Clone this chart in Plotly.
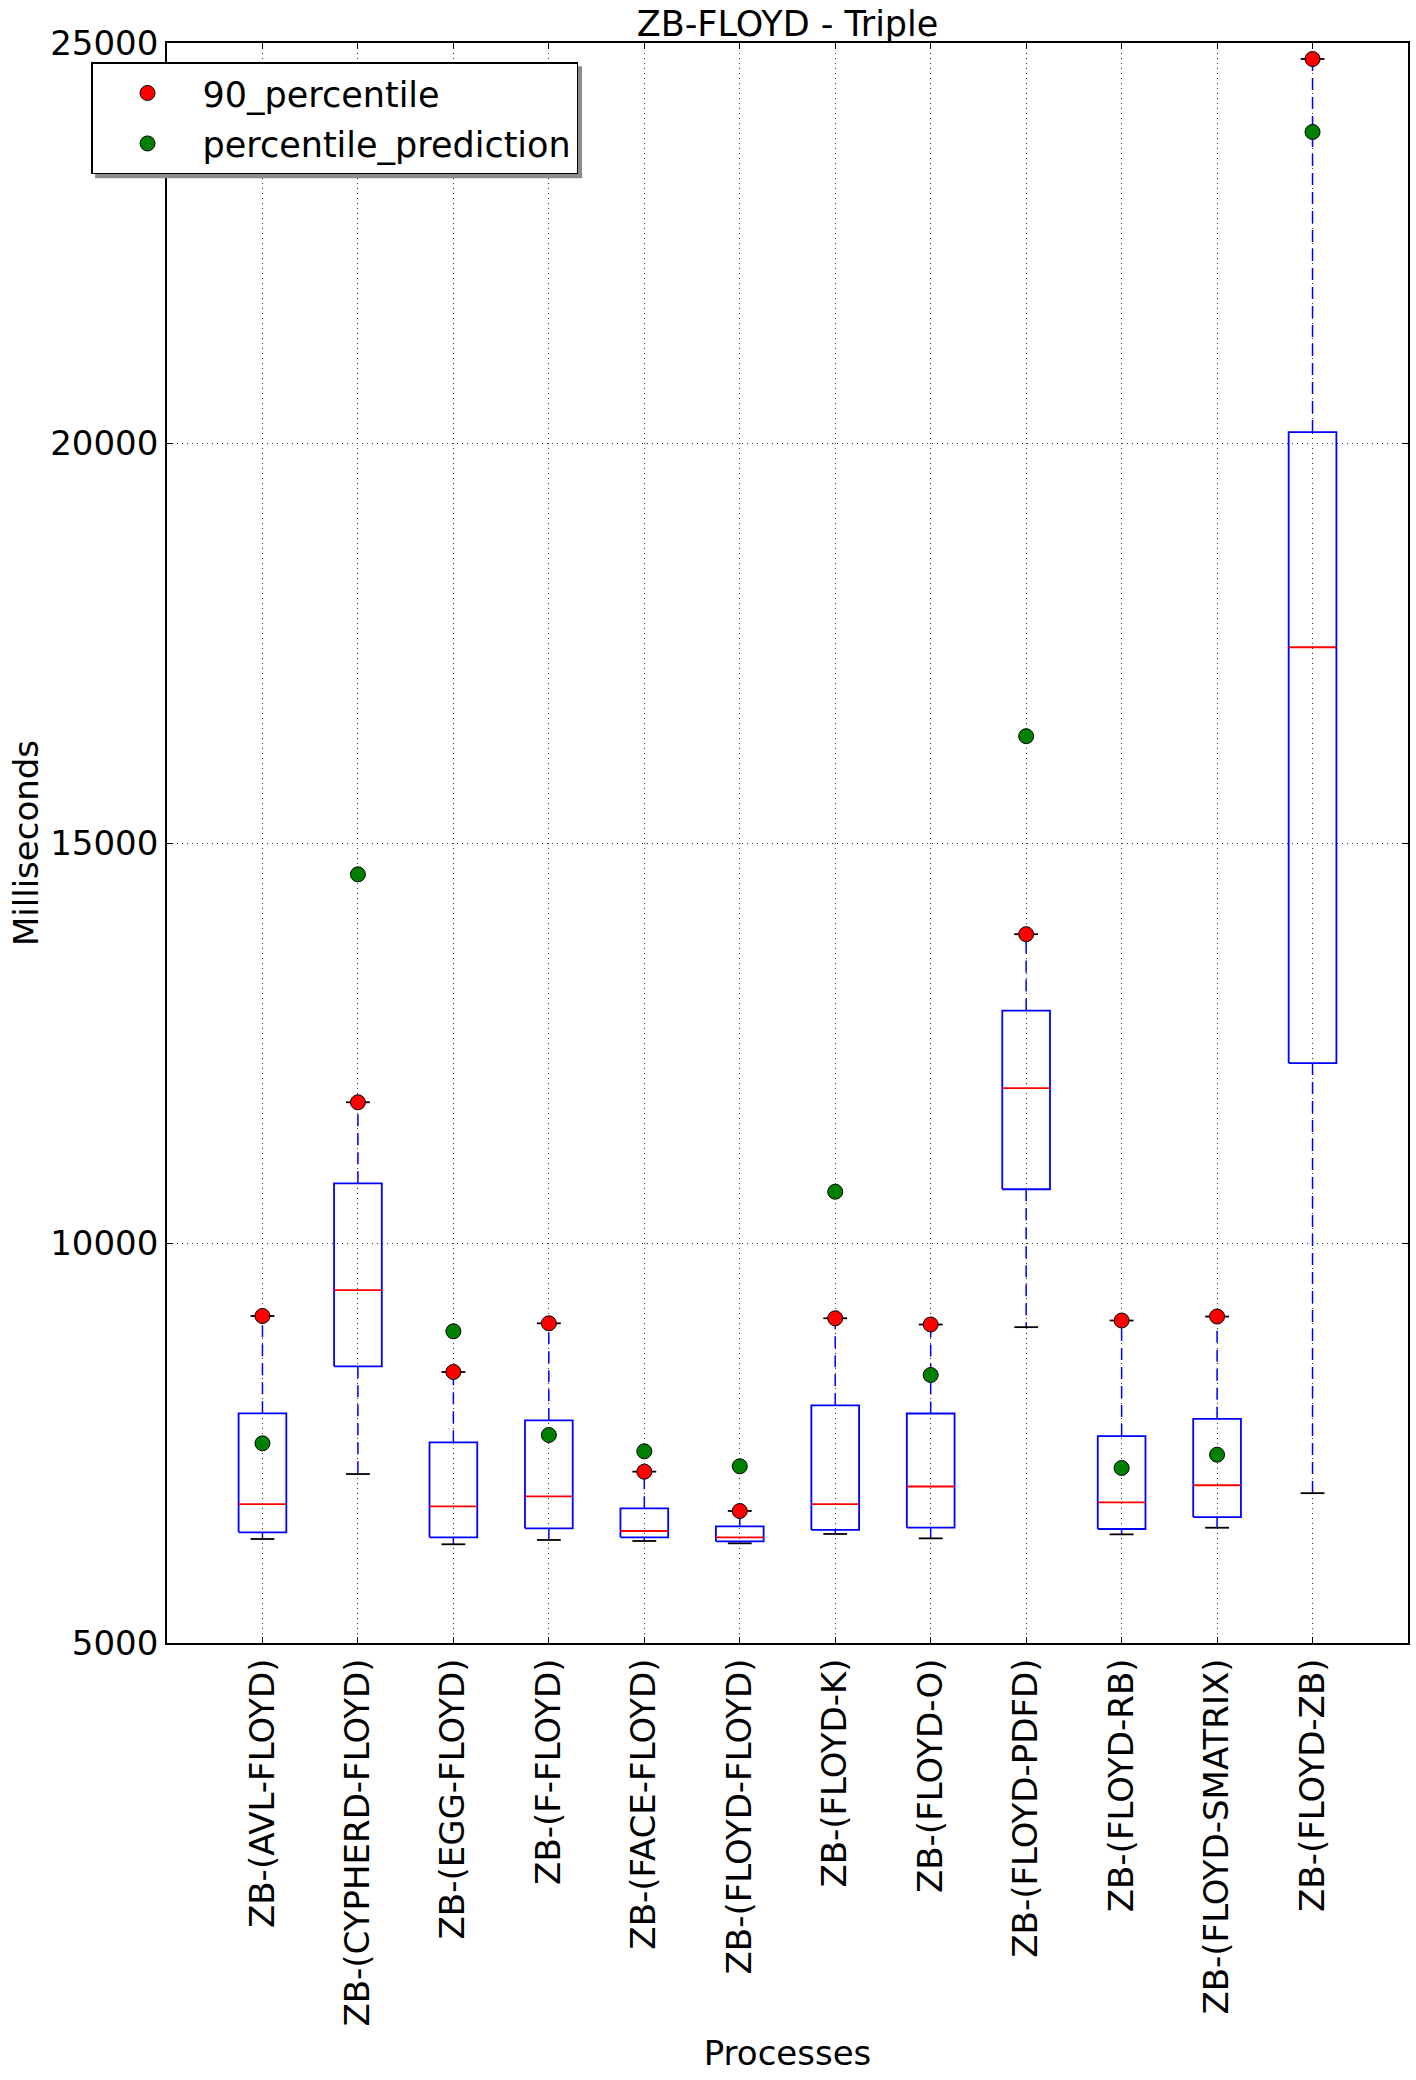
import plotly.graph_objects as go

# ---------------- data ----------------
categories = ["ZB-(AVL-FLOYD)", "ZB-(CYPHERD-FLOYD)", "ZB-(EGG-FLOYD)", "ZB-(F-FLOYD)",
              "ZB-(FACE-FLOYD)", "ZB-(FLOYD-FLOYD)", "ZB-(FLOYD-K)", "ZB-(FLOYD-O)",
              "ZB-(FLOYD-PDFD)", "ZB-(FLOYD-RB)", "ZB-(FLOYD-SMATRIX)", "ZB-(FLOYD-ZB)"]
p90 = [9088, 11759, 8388, 8996, 7142, 6650, 9059, 8981, 13860, 9031, 9081, 24800]
prediction = [7496, 14608, 8896, 7600, 7396, 7209, 10641, 8350, 16335, 7188, 7354, 23888]
whisker_high = [9088, 11759, 8388, 8996, 7142, 6650, 9059, 8981, 13860, 9031, 9081, 24800]
q3 = [7871, 10746, 7509, 7784, 6684, 6459, 7971, 7869, 12905, 7587, 7802, 20136]
median = [6737, 9412, 6709, 6834, 6400, 6321, 6737, 6956, 11935, 6757, 6972, 17447]
q1 = [6384, 8459, 6321, 6434, 6321, 6271, 6413, 6441, 10672, 6425, 6574, 12249]
whisker_low = [6300, 7112, 6234, 6288, 6275, 6246, 6363, 6308, 8948, 6358, 6441, 6873]
y_ticks = [5000, 10000, 15000, 20000, 25000]

positions = list(range(1, len(categories) + 1))
HALF_BOX = 0.25
HALF_CAP = 0.125
FONT = "DejaVu Sans"
FS = 34

# ---------------- build segments ----------------
box_x, box_y = [], []
med_x, med_y = [], []
wh_x, wh_y = [], []
cap_x, cap_y = [], []
for p, lo, a, m, b, hi in zip(positions, whisker_low, q1, median, q3, whisker_high):
    box_x += [p - HALF_BOX, p + HALF_BOX, p + HALF_BOX, p - HALF_BOX, p - HALF_BOX, None]
    box_y += [a, a, b, b, a, None]
    med_x += [p - HALF_BOX, p + HALF_BOX, None]
    med_y += [m, m, None]
    wh_x += [p, p, None, p, p, None]
    wh_y += [b, hi, None, a, lo, None]
    cap_x += [p - HALF_CAP, p + HALF_CAP, None, p - HALF_CAP, p + HALF_CAP, None]
    cap_y += [hi, hi, None, lo, lo, None]

fig = go.Figure()
fig.add_trace(go.Scatter(x=wh_x, y=wh_y, mode="lines", showlegend=False, hoverinfo="skip",
                         line=dict(color="#0000ff", width=1.5, dash="12px,7px")))
fig.add_trace(go.Scatter(x=cap_x, y=cap_y, mode="lines", showlegend=False, hoverinfo="skip",
                         line=dict(color="black", width=1.8)))
fig.add_trace(go.Scatter(x=box_x, y=box_y, mode="lines", showlegend=False, hoverinfo="skip",
                         line=dict(color="#0000ff", width=1.8)))
fig.add_trace(go.Scatter(x=med_x, y=med_y, mode="lines", showlegend=False, hoverinfo="skip",
                         line=dict(color="#ff0000", width=1.8)))
fig.add_trace(go.Scatter(x=positions, y=p90, mode="markers", name="90_percentile",
                         legendgroup="a",
                         marker=dict(color="#ff0000", size=15, line=dict(color="black", width=1))))
fig.add_trace(go.Scatter(x=positions, y=prediction, mode="markers", name="percentile_prediction",
                         legendgroup="b",
                         marker=dict(color="#008000", size=15, line=dict(color="black", width=1))))

axis_common = dict(
    showgrid=True, gridcolor="#333333", griddash="1px,4px", gridwidth=1,
    showline=True, linecolor="black", linewidth=1.8, mirror="ticks",
    ticks="inside", ticklen=6, tickcolor="black", zeroline=False,
    automargin=False, tickfont=dict(family=FONT, size=FS, color="black"),
)

fig.update_xaxes(range=[0, len(categories) + 1], tickmode="array", tickvals=positions,
                 ticktext=categories, tickangle=-90,
                 title=dict(text="Processes", font=dict(family=FONT, size=FS), standoff=16),
                 **axis_common)
fig.update_yaxes(range=[y_ticks[0], y_ticks[-1]], tickmode="array", tickvals=y_ticks,
                 ticktext=[str(v) for v in y_ticks],
                 title=dict(text="Milliseconds", font=dict(family=FONT, size=FS), standoff=1),
                 **axis_common)

# legend shadow (plot area: 1241 x 1600 px)
L_X, L_Y, L_W, L_H = -0.0612, 0.988, 487 / 1241, 112 / 1600
fig.add_shape(type="rect", xref="paper", yref="paper", layer="above",
              x0=L_X + 4 / 1241, x1=L_X + L_W + 4 / 1241,
              y0=L_Y - L_H - 4 / 1600, y1=L_Y - 4 / 1600,
              fillcolor="#8c8c8c", line=dict(width=0))

fig.update_layout(
    width=1416, height=2080,
    margin=dict(l=167, r=8, t=43, b=437, autoexpand=False),
    plot_bgcolor="white", paper_bgcolor="white",
    font=dict(family=FONT, color="black", size=FS),
    title=dict(text="ZB-FLOYD - Triple", x=0.5, xanchor="center", xref="paper",
               y=1 - 24 / 2080, yanchor="middle", yref="container",
               font=dict(family=FONT, size=35, color="black")),
    legend=dict(x=L_X, y=L_Y, xanchor="left", yanchor="top", bgcolor="white",
                bordercolor="black", borderwidth=1.5, font=dict(family=FONT, size=35),
                itemwidth=100, tracegroupgap=2),
)

fig.write_html("out.html")
